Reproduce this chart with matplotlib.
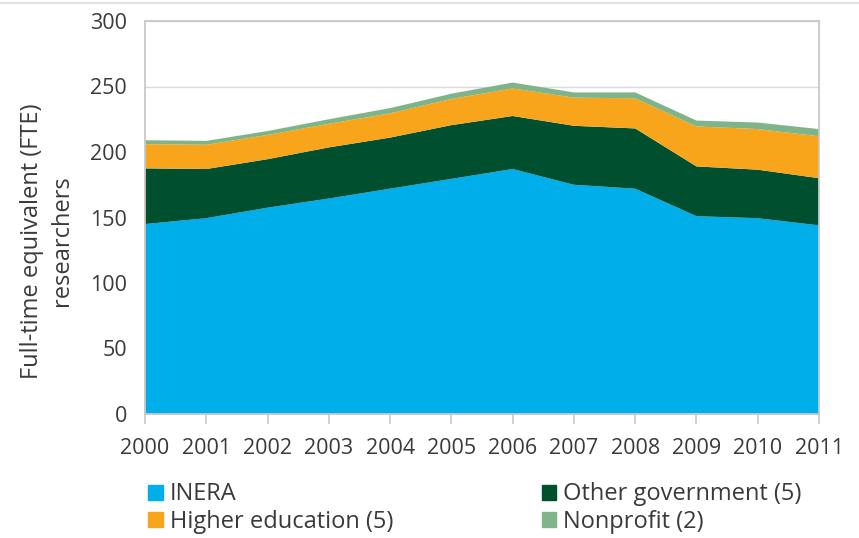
import matplotlib.pyplot as plt
from matplotlib.lines import Line2D
from matplotlib.patches import Patch

years = [2000, 2001, 2002, 2003, 2004, 2005, 2006, 2007, 2008, 2009, 2010, 2011]
inera = [145, 149.5, 157.5, 164.5, 172, 179.5, 187, 175, 172, 151, 149.5, 144]
other_gov = [42.5, 37.5, 37, 39, 39, 41, 40.5, 45, 46, 38, 37, 36]
higher_ed = [18.5, 18.5, 18.5, 18, 18.5, 20, 21, 21.5, 23, 30.5, 31, 32]
nonprofit = [3, 3, 3, 3.5, 4, 4, 4.5, 4, 4.5, 4.5, 5, 5.5]

labels = ["INERA", "Other government (5)", "Higher education (5)", "Nonprofit (2)"]
colors = ["#00AEEA", "#004F2E", "#F8A51C", "#7FB48A"]
text_color = "#3A3A3A"

plt.rcParams["font.family"] = ["Open Sans", "DejaVu Sans"]

fig = plt.figure(figsize=(8.59, 5.38), dpi=100)
ax = fig.add_axes([145 / 859, 1 - 414 / 538, (819 - 145) / 859, (414 - 21) / 538])

ax.stackplot(years, inera, other_gov, higher_ed, nonprofit, colors=colors, zorder=2)

ax.set_xlim(2000, 2011)
ax.set_ylim(0, 300)
ax.set_yticks(range(0, 301, 50))
ax.set_xticks(years)
ax.grid(axis="y", color="#D9D9D9", linewidth=1, zorder=0)
ax.tick_params(axis="both", colors=text_color, labelsize=15.5)
ax.tick_params(axis="x", length=7, width=1.2, color="#C8C8C8", pad=10)
ax.tick_params(axis="y", length=0, pad=13)

for pos in ["right", "top", "bottom", "left"]:
    ax.spines[pos].set_color("#C8C8C8")
    ax.spines[pos].set_linewidth(1.3)

ax.set_ylabel("Full-time equivalent (FTE)\nresearchers", fontsize=17, color=text_color,
              linespacing=1.3)
ax.yaxis.set_label_coords(-0.106, 0.44)

# faint page rule across the top
fig.add_artist(Line2D([0, 1], [1 - 3 / 538, 1 - 3 / 538], color="#DDDDDD", linewidth=1.2))

handles = [Patch(color=c) for c in colors]
order = [0, 2, 1, 3]
fig.legend(
    [handles[i] for i in order],
    [labels[i] for i in order],
    loc="upper left",
    bbox_to_anchor=(139 / 859, 1 - 473 / 538),
    borderaxespad=0,
    ncol=2,
    frameon=False,
    fontsize=17,
    handlelength=0.6,
    handleheight=0.6,
    handletextpad=0.3,
    columnspacing=6.3,
    labelspacing=0.16,
    labelcolor=text_color,
)

fig.savefig("out.png", dpi=100)
